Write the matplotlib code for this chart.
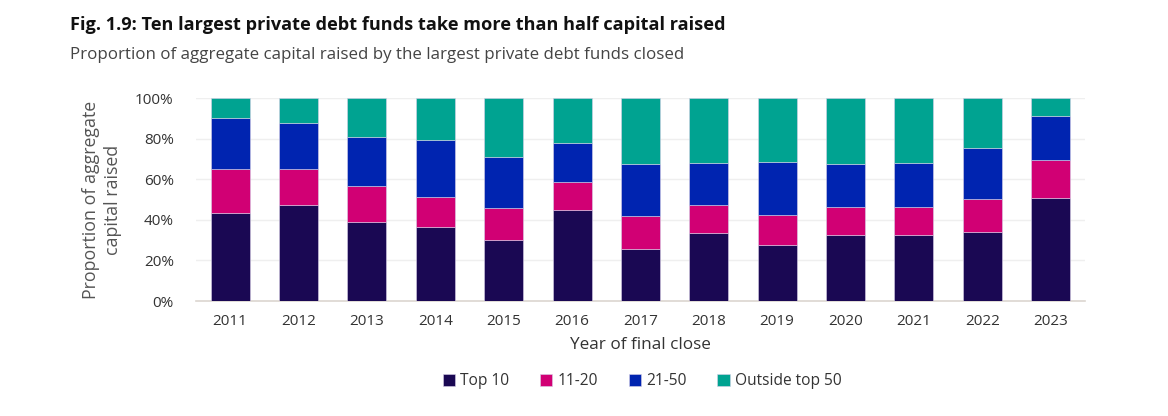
import matplotlib
matplotlib.use("Agg")
import matplotlib.pyplot as plt
import numpy as np

years = ["2011", "2012", "2013", "2014", "2015", "2016", "2017", "2018", "2019", "2020", "2021", "2022", "2023"]
top10 = [43.3, 47.3, 39.1, 36.3, 30.2, 45.0, 25.6, 33.7, 27.7, 32.7, 32.7, 34.1, 50.9]
r11_20 = [21.6, 17.7, 17.4, 14.9, 15.5, 13.6, 16.3, 13.4, 14.7, 13.6, 13.4, 16.1, 18.4]
r21_50 = [25.1, 22.5, 24.4, 28.0, 25.4, 19.4, 25.7, 21.0, 26.2, 21.0, 22.0, 25.3, 21.7]
outside50 = [10.0, 12.5, 19.1, 20.8, 28.9, 22.0, 32.4, 31.9, 31.4, 32.7, 31.9, 24.5, 9.0]

series_names = ["Top 10", "11-20", "21-50", "Outside top 50"]
colors = ["#1A0853", "#D10074", "#0024B0", "#00A391"]

plt.rcParams['font.family'] = ['Open Sans', 'DejaVu Sans']

fig = plt.figure(figsize=(11.68, 4.16), dpi=100)
ax = fig.add_axes([0.1678, 0.2764, 0.761, 0.488])

x = np.arange(len(years))
bottom = np.zeros(len(years))
for vals, name, col in zip([top10, r11_20, r21_50, outside50], series_names, colors):
    ax.bar(x, vals, bottom=bottom, width=0.57, color=col, label=name,
           edgecolor="#D8D0E8", linewidth=0.4, zorder=3)
    bottom += np.array(vals)

ax.set_ylim(0, 100)
ax.set_xlim(-0.5, 12.5)
ax.set_yticks([0, 20, 40, 60, 80, 100])
ax.set_yticklabels([f"{v}%" for v in [0, 20, 40, 60, 80, 100]])
ax.set_xticks(x)
ax.set_xticklabels(years)
ax.grid(axis='y', color="#EFEFEF", linewidth=1, zorder=0)
ax.set_axisbelow(True)
for s in ["top", "right", "left"]:
    ax.spines[s].set_visible(False)
ax.spines["bottom"].set_color("#DCD6D0")
ax.spines["bottom"].set_linewidth(1.2)
ax.tick_params(axis='both', length=0, labelsize=11, colors="#333333", pad=16)
ax.tick_params(axis='x', pad=9)

ax.set_xlabel("Year of final close", fontsize=12.3, color="#333333", labelpad=6)
ax.set_ylabel("Proportion of aggregate\ncapital raised", fontsize=12.8, color="#555555",
              labelpad=9.5, linespacing=1.3)

fig.text(70/1168, 1 - 25/416, "Fig. 1.9: Ten largest private debt funds take more than half capital raised",
         fontsize=13.1, fontweight="bold", color="#111111", va="center", ha="left")
fig.text(70/1168, 1 - 55/416, "Proportion of aggregate capital raised by the largest private debt funds closed",
         fontsize=12.2, color="#444444", va="center", ha="left")

leg = fig.legend(loc="center", bbox_to_anchor=(642/1168, 1 - 381/416), ncol=4, frameon=False,
                 fontsize=11.2, handlelength=0.8, handleheight=0.8, handletextpad=0.3,
                 columnspacing=2.0, labelcolor="#333333")

fig.savefig("out.png", dpi=100)
